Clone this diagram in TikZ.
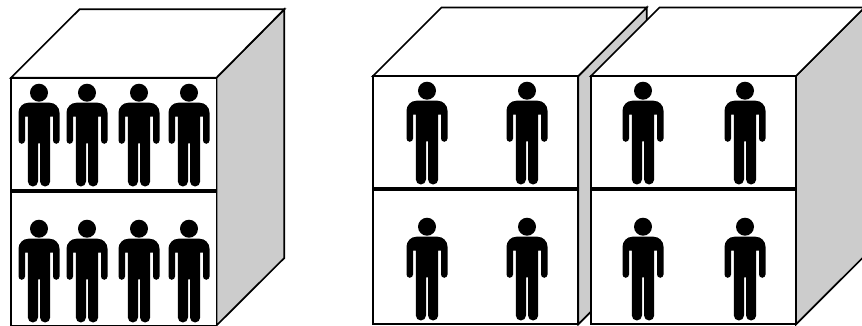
\documentclass[tikz,border=0pt]{standalone}
\tikzset{
  facebox/.style={draw=black,line width=1.7pt,line join=miter,fill=white},
  sidebox/.style={draw=black,line width=1.7pt,line join=miter,fill=black!20},
  shelfline/.style={draw=black,line width=4pt},
  person/.pic={
    \fill[black] (0,0) circle (9);
    \fill[black] (-20.5,20) arc[start angle=180,end angle=270,radius=10] -- (10.5,10)
      arc[start angle=270,end angle=360,radius=10] -- (20.5,47.8)
      arc[start angle=0,end angle=180,radius=3.25] -- (14,24) -- (11.2,24) -- (11.2,88.7)
      arc[start angle=0,end angle=180,radius=5.1] -- (1,50.7) -- (-1,50.7) -- (-1,88.7)
      arc[start angle=0,end angle=180,radius=5.1] -- (-11.2,24) -- (-14,24) -- (-14,47.8)
      arc[start angle=0,end angle=180,radius=3.25] -- cycle;
  }
}
\begin{document}
\begin{tikzpicture}[x=1pt,y=-1pt]
\useasboundingbox (0,0) rectangle (862,325);
\clip (0,0) rectangle (862,325);
% left cabinet
\filldraw[sidebox] (216.5,77.7) -- (284.3,9.3) -- (284.3,258) -- (216.5,325.5) -- cycle;
\filldraw[facebox] (11,77.7) -- (79.5,9.3) -- (284.3,9.3) -- (216.5,77.7) -- cycle;
\filldraw[facebox] (11,77.7) rectangle (216.5,326);
\draw[shelfline] (11,190.5) -- (216.5,190.5);
\foreach \px in {39,87,139,189}{
  \pic at (\px,92.7) {person};
  \pic at (\px,228.7) {person};
}
% middle cabinet
\filldraw[sidebox] (578.3,76) -- (646.7,7.5) -- (646.7,256) -- (578.3,324.3) -- cycle;
\filldraw[facebox] (373,76) -- (441.5,7.5) -- (646.7,7.5) -- (578.3,76) -- cycle;
\filldraw[facebox] (373,76) rectangle (578.3,324.3);
\draw[shelfline] (373,188.5) -- (578.3,188.5);
\foreach \px in {427,527}{
  \pic at (\px,90.7) {person};
  \pic at (\px,226.7) {person};
}
% right cabinet
\filldraw[sidebox] (796,76) -- (864.5,7.5) -- (864.5,256) -- (796,324.3) -- cycle;
\filldraw[facebox] (591,76) -- (659.5,7.5) -- (864.5,7.5) -- (796,76) -- cycle;
\filldraw[facebox] (591,76) rectangle (796,324.3);
\draw[shelfline] (591,188.5) -- (796,188.5);
\foreach \px in {643,745}{
  \pic at (\px,90.7) {person};
  \pic at (\px,226.7) {person};
}
\end{tikzpicture}
\end{document}
